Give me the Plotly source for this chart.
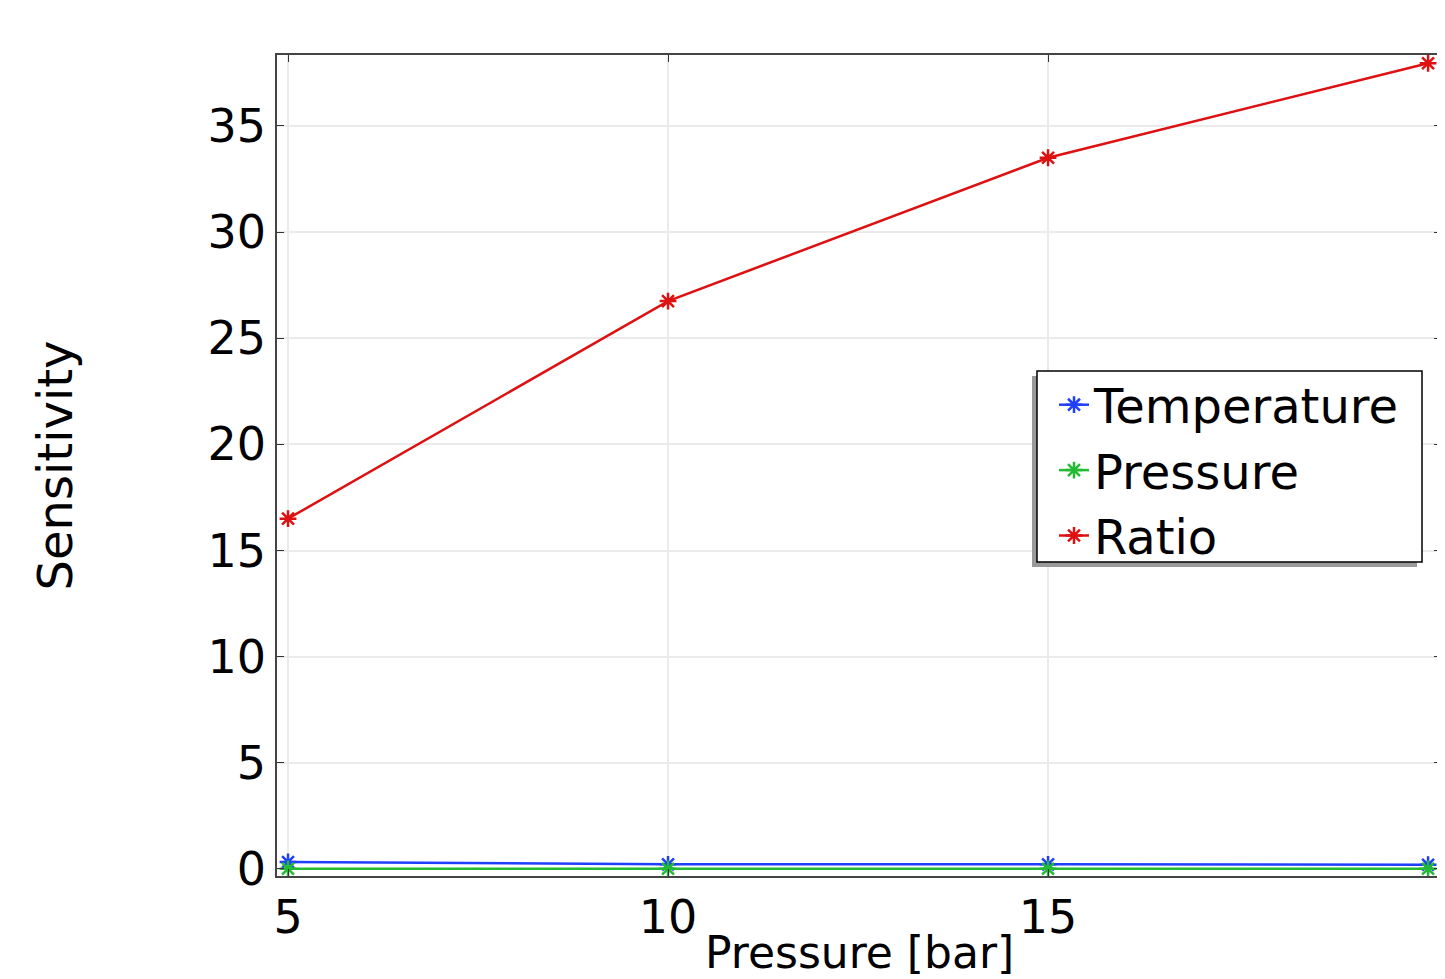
import plotly.graph_objects as go

pressure_bar = [5, 10, 15, 20]
temperature = [0.33, 0.22, 0.22, 0.20]
pressure = [0.01, 0.01, 0.01, 0.01]
ratio = [16.5, 26.75, 33.5, 37.95]

series = [
    ("Temperature", temperature, "#1f3fff"),
    ("Pressure", pressure, "#22bb33"),
    ("Ratio", ratio, "#dd1111"),
]

FONT = "DejaVu Sans"
fig = go.Figure()
for name, vals, color in series:
    fig.add_trace(go.Scatter(
        x=pressure_bar, y=vals, name=name, mode="lines+markers",
        line=dict(color=color, width=2.5),
        marker=dict(symbol="asterisk-open", size=14, line=dict(color=color, width=2.5)),
    ))

OFF = 7  # page offset
W, H = 1445 - OFF, 979 - OFF
L, T = 276 - OFF, 54 - OFF
pw, ph = 1164, 821
R = W - L - pw
B = H - T - ph

def px_x(x):
    return (x - OFF - L) / pw

def px_y(y):
    return (H - B - (y - OFF)) / ph

# legend shadow and frame
fig.add_shape(type="rect", xref="paper", yref="paper",
              x0=px_x(1031), x1=px_x(1416), y0=px_y(566), y1=px_y(375),
              fillcolor="#9a9a9a", line=dict(width=0), layer="above")
fig.add_shape(type="rect", xref="paper", yref="paper",
              x0=px_x(1036), x1=px_x(1421), y0=px_y(561), y1=px_y(370),
              fillcolor="white", line=dict(color="black", width=1.5), layer="above")

# x-axis title
fig.add_annotation(text="Pressure [bar]", xref="paper", yref="paper",
                   x=0.5, y=px_y(951), xanchor="center", yanchor="middle",
                   showarrow=False, font=dict(size=44, family=FONT, color="black"))

fig.update_layout(
    width=W, height=H,
    margin=dict(l=L, r=R, t=T, b=B),
    paper_bgcolor="white", plot_bgcolor="white",
    font=dict(family=FONT, size=46, color="black"),
    showlegend=True,
    legend=dict(x=px_x(1053), y=px_y(366), xanchor="left", yanchor="top",
                bgcolor="rgba(0,0,0,0)", borderwidth=0,
                font=dict(size=48), itemwidth=30, tracegroupgap=0),
    xaxis=dict(range=[4.855, 20.17], tickvals=[5, 10, 15], ticks="inside", ticklen=7,
               tickcolor="#333", showline=True, linecolor="#444", linewidth=1.5, mirror="ticks",
               showgrid=True, gridcolor="#ebebeb", gridwidth=1.5, zeroline=False,
               tickfont=dict(size=46)),
    yaxis=dict(range=[-0.33, 38.34], tickvals=[0, 5, 10, 15, 20, 25, 30, 35], ticks="inside", ticklen=7,
               tickcolor="#333", showline=True, linecolor="#444", linewidth=1.5, mirror="ticks",
               showgrid=True, gridcolor="#ebebeb", gridwidth=1.5, zeroline=False,
               tickfont=dict(size=46),
               title=dict(text="Sensitivity", font=dict(size=48), standoff=120)),
)
fig.update_xaxes(automargin=False)
fig.update_yaxes(automargin=False)
fig.write_html("out.html")
